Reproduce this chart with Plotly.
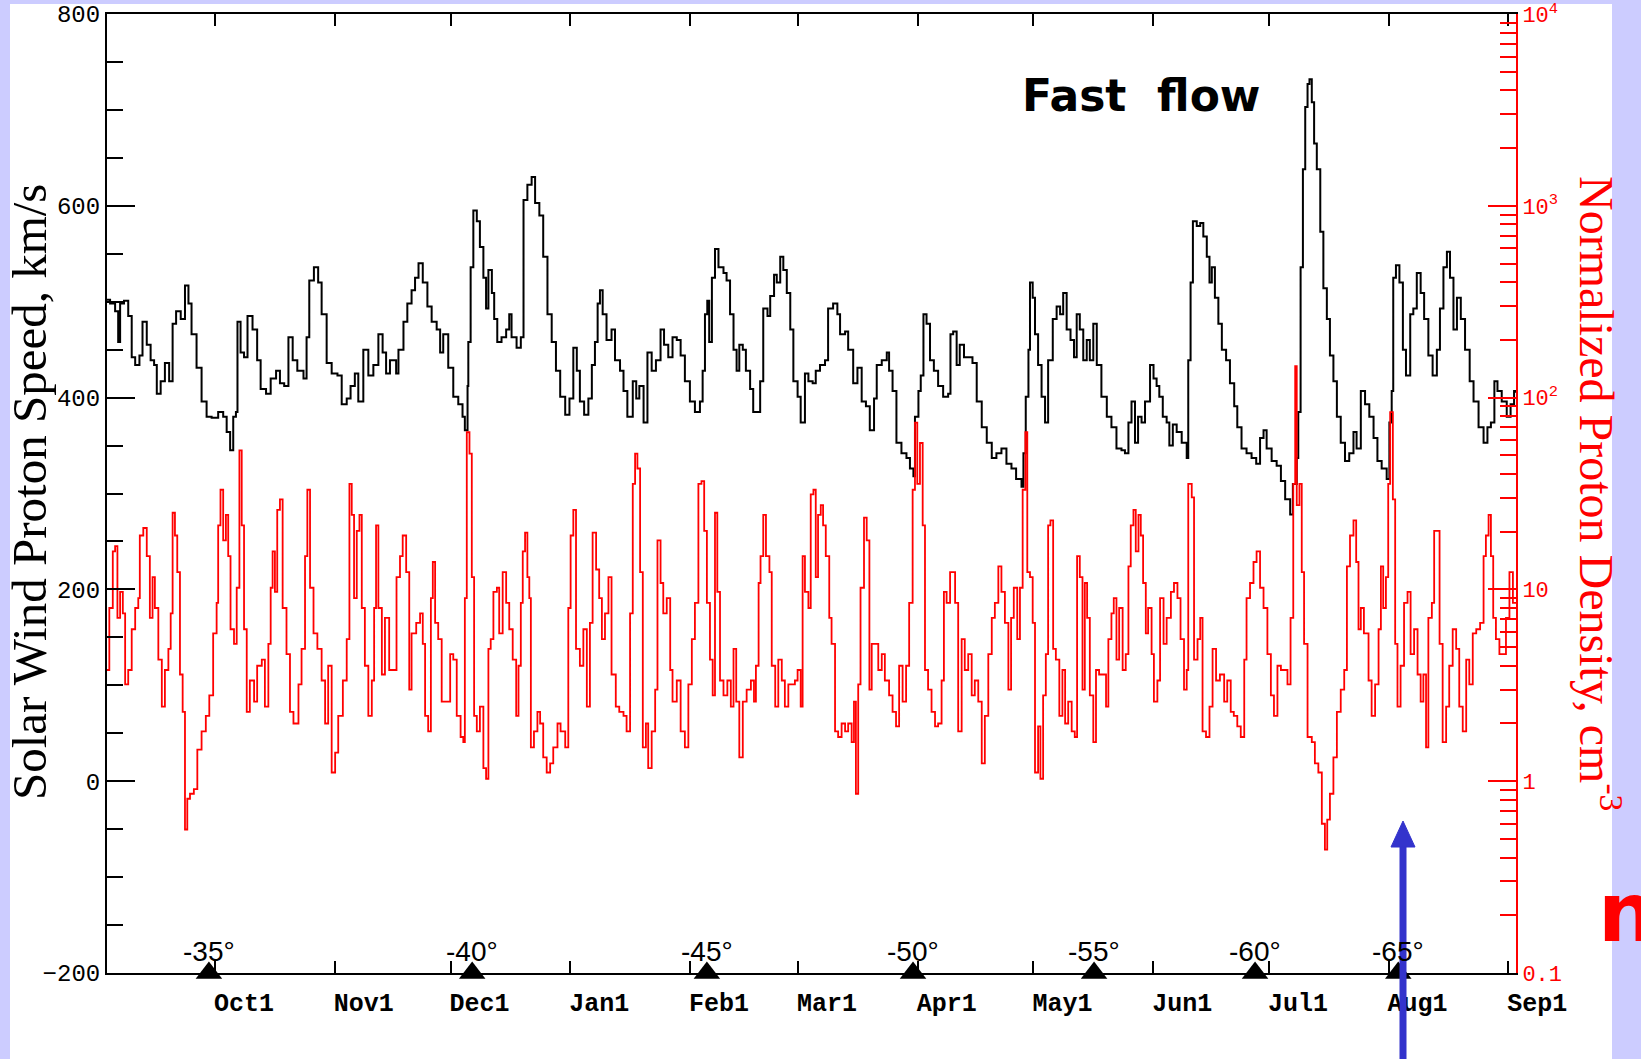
import pandas as pd
import plotly.graph_objects as go

# ---------------- data ----------------
START = "1993-09-03"          # left edge of the time axis
END = "1994-09-03"            # right edge of the time axis

# solar wind proton speed, km/s  (day offset from START)
speed_day = [0, 0.8, 2.1, 2.9, 3.4, 4.4, 5.5, 6.4, 7.3, 8.4, 9.2, 10.3, 11.3, 12.2, 12.9, 13.9, 15.0, 16.1, 17.0, 17.9,
             19.1, 20.2, 21.1, 21.9, 23.2, 24.5, 25.8, 27.1, 28.8, 30.1, 31.0, 31.9, 32.7, 33.4, 33.8, 34.6, 35.5, 36.4,
             37.7, 38.9, 39.8, 41.2, 42.4, 43.8, 44.8, 45.9, 47.0, 48.1, 49.3, 50.9, 51.7, 52.4, 53.6, 54.7, 55.6, 56.9,
             58.2, 59.7, 60.8, 62.1, 63.1, 64.2, 65.1, 66.4, 67.7, 69.0, 70.3, 71.4, 72.3, 73.3, 74.9, 75.5, 76.8, 77.8,
             78.9, 79.8, 80.7, 81.8, 83.0, 84.1, 85.4, 86.3, 87.1, 88.4, 89.7, 91.0, 92.1, 92.7, 93.4, 93.6, 94.2, 94.9,
             95.8, 96.6, 97.5, 98.2, 98.8, 99.7, 100.3, 101.1, 102.2, 103.4, 104.2, 104.8, 106.1, 107.2, 107.9, 108.9,
             110.0, 110.9, 112.0, 113.0, 114.1, 115.2, 116.3, 117.4, 118.7, 119.8, 120.8, 121.7, 122.5, 123.6, 124.7,
             125.6, 126.4, 127.1, 127.7, 128.4, 129.4, 130.7, 131.6, 132.9, 133.8, 134.8, 136.2, 137.1, 137.9, 139.0,
             140.0, 141.1, 142.2, 143.4, 144.3, 145.4, 146.5, 147.6, 148.6, 149.7, 151.0, 152.3, 153.6, 154.3, 154.9,
             155.5, 156.0, 156.7, 157.5, 158.4, 159.7, 160.5, 161.4, 162.3, 163.1, 163.8, 164.7, 165.5, 166.6, 167.4,
             168.5, 169.2, 170.0, 171.1, 171.8, 172.8, 173.5, 174.4, 175.2, 176.1, 177.0, 177.8, 178.9, 179.7, 180.8,
             181.7, 182.8, 183.6, 184.7, 186.0, 186.8, 188.1, 189.2, 189.9, 191.2, 192.0, 193.3, 194.4, 195.5, 196.6,
             197.6, 198.7, 199.4, 200.7, 202.0, 202.6, 203.5, 204.5, 205.8, 207.1, 208.0, 208.9, 209.3, 210.2, 210.8,
             211.5, 212.3, 213.2, 214.2, 215.3, 216.6, 217.9, 218.5, 219.2, 220.1, 220.9, 222.0, 223.1, 224.2, 225.3,
             226.6, 227.9, 229.2, 230.4, 231.7, 233.0, 234.3, 235.5, 236.9, 237.4, 238.0, 238.7, 239.1, 239.8, 240.4,
             241.2, 242.1, 243.0, 243.8, 245.0, 246.0, 246.9, 247.7, 248.6, 249.6, 250.5, 251.2, 252.0, 252.9, 253.8,
             254.6, 255.5, 256.4, 257.6, 259.0, 260.2, 261.5, 262.8, 263.7, 264.6, 265.4, 266.3, 267.1, 268.0, 268.9,
             270.2, 271.1, 271.9, 272.6, 273.5, 274.5, 275.2, 276.1, 277.1, 278.4, 279.7, 280.1, 280.7, 281.3, 282.3,
             283.2, 284.0, 284.9, 285.6, 286.2, 287.0, 287.9, 288.8, 289.9, 290.9, 292.0, 292.8, 293.9, 295.2, 296.5,
             297.7, 298.7, 299.6, 300.4, 301.7, 303.0, 304.1, 305.2, 306.5, 307.2, 308.2, 308.6, 309.2, 309.8, 310.4,
             311.0, 311.5, 312.1, 312.7, 313.4, 314.3, 315.1, 316.0, 316.8, 317.7, 318.6, 319.6, 320.7, 321.8, 322.9,
             323.7, 324.8, 325.9, 327.0, 328.1, 329.1, 330.2, 331.5, 332.2, 332.8, 333.2, 333.9, 334.8, 335.7, 336.5,
             337.6, 338.4, 339.3, 340.3, 341.2, 342.3, 343.4, 344.5, 345.3, 346.2, 347.1, 347.9, 348.8, 349.7, 350.7,
             351.8, 353.0, 354.0, 355.3, 356.6, 357.6, 358.5, 359.4, 360.2, 361.3, 362.6, 363.6, 364.5, 365.0]
speed_kms = [502, 498, 490, 458, 498, 501, 485, 442, 434, 444, 479, 455, 439, 434, 404, 417, 436, 417, 477, 490,
             482, 517, 498, 466, 431, 396, 380, 379, 385, 380, 364, 345, 380, 385, 479, 447, 442, 485,
             471, 439, 409, 404, 420, 428, 415, 412, 463, 439, 428, 420, 463, 522, 536, 520, 487, 436,
             425, 423, 393, 399, 412, 425, 396, 450, 423, 434, 466, 447, 425, 439, 425, 450, 479, 498,
             512, 525, 540, 520, 495, 479, 471, 447, 466, 431, 401, 393, 380, 366, 412, 458, 536, 595,
             584, 557, 525, 493, 533, 509, 482, 458, 463, 471, 487, 463, 452, 463, 606, 622,
             630, 603, 590, 547, 487, 458, 428, 401, 382, 399, 452, 428, 396, 382, 399,
             434, 458, 498, 512, 487, 460, 471, 439, 428, 407, 380, 417, 399, 412, 374,
             447, 428, 439, 471, 455, 442, 463, 460, 444, 417, 396, 385, 396, 428, 487,
             501, 458, 525, 555, 536, 530, 522, 487, 450, 428, 455, 450, 428, 409, 385,
             385, 417, 493, 485, 506, 528, 520, 547, 533, 509, 471, 417, 401, 374, 425,
             417, 415, 428, 434, 439, 493, 498, 487, 466, 469, 450, 415, 431, 396, 391,
             366, 399, 434, 439, 447, 428, 407, 353, 342, 337, 326, 318, 380, 407, 423,
             487, 477, 439, 428, 412, 401, 404, 466, 469, 434, 455, 442, 442, 436, 396,
             369, 353, 337, 342, 347, 331, 326, 315, 307, 342, 401, 450, 520, 504, 466,
             434, 401, 374, 439, 482, 495, 487, 509, 471, 460, 442, 487, 471, 439, 460,
             439, 477, 434, 401, 380, 369, 347, 345, 342, 374, 396, 353, 380, 374, 396,
             434, 420, 412, 401, 380, 374, 350, 372, 364, 353, 337, 439, 520, 584, 579,
             582, 568, 547, 520, 536, 504, 477, 450, 439, 415, 391, 369, 347, 342, 337,
             331, 358, 366, 347, 334, 329, 313, 294, 278, 310, 337, 385, 536, 638, 703,
             727, 732, 708, 665, 638, 573, 514, 482, 444, 417, 380, 353, 334, 342, 364,
             347, 407, 393, 380, 358, 334, 326, 315, 374, 407, 525, 538, 520, 450, 423,
             487, 493, 530, 509, 482, 444, 423, 450, 493, 536, 552, 525, 471, 504, 482,
             450, 417, 396, 369, 353, 369, 374, 417, 407, 396, 380, 393, 407, 405]

# normalized proton density, cm^-3  (day offset from START)
dens_day = [0, 0.6, 1.5, 2.1, 2.7, 3.4, 4.1, 4.7, 5.5, 6.4, 7.3, 8.1, 8.5, 9.4, 10.3, 11.1, 11.8, 12.4, 13.3, 14.2,
            15.0, 15.9, 16.5, 17.0, 17.6, 18.2, 18.9, 19.6, 20.2, 20.8, 21.5, 22.5, 23.4, 24.5, 25.6, 26.5, 27.5, 28.4,
            28.8, 29.4, 30.1, 30.8, 31.4, 32.0, 32.9, 33.6, 34.3, 34.9, 35.5, 36.2, 37.0, 38.1, 38.9, 40.1, 40.9, 41.8,
            42.4, 42.9, 43.5, 44.1, 44.8, 45.5, 46.5, 47.4, 48.3, 49.6, 50.4, 51.3, 51.9, 52.6, 53.5, 54.5, 55.6, 56.5,
            57.3, 58.2, 59.1, 59.9, 61.1, 62.1, 62.8, 63.4, 64.0, 64.7, 65.4, 66.0, 66.8, 67.7, 68.6, 69.2, 69.7, 70.3,
            71.2, 72.0, 73.1, 74.4, 75.0, 75.9, 76.6, 77.5, 78.3, 78.9, 80.1, 81.1, 81.8, 82.4, 83.2, 83.9, 84.4, 85.0,
            85.8, 86.7, 88.0, 88.9, 89.7, 90.6, 91.6, 92.3, 92.7, 93.2, 93.9, 94.5, 95.1, 95.8, 96.6, 97.5, 98.2, 98.8,
            99.4, 100.1, 101.0, 101.6, 102.5, 103.4, 104.2, 105.1, 106.0, 106.6, 107.2, 107.7, 108.3, 108.9, 109.4,
            109.8, 110.6, 111.5, 112.2, 113.0, 113.9, 114.8, 115.6, 116.7, 117.5, 118.7, 119.5, 120.1, 120.8, 121.5,
            122.5, 123.4, 124.3, 125.1, 125.8, 126.7, 127.5, 128.2, 129.0, 129.9, 130.7, 131.8, 132.7, 133.8, 134.6,
            135.5, 136.2, 136.8, 137.4, 138.1, 138.8, 139.6, 140.2, 141.1, 142.0, 142.6, 143.4, 144.1, 145.0, 145.9,
            146.5, 147.6, 148.6, 149.7, 150.6, 151.5, 152.3, 153.2, 154.0, 154.7, 155.4, 156.2, 156.9, 157.5, 158.1,
            158.8, 159.7, 160.7, 161.6, 162.3, 163.0, 163.8, 164.7, 165.7, 166.8, 167.6, 168.1, 168.8, 169.3, 170.0,
            170.7, 171.6, 172.2, 173.1, 173.9, 174.8, 175.6, 176.5, 177.4, 178.2, 178.9, 179.7, 180.2, 180.8, 181.7,
            182.3, 183.0, 183.6, 184.2, 184.9, 185.5, 186.2, 187.1, 187.7, 188.6, 189.4, 190.3, 191.2, 192.0, 192.9,
            193.5, 194.0, 194.6, 195.2, 196.1, 196.8, 197.5, 198.1, 198.9, 199.8, 200.7, 201.5, 202.6, 203.5, 204.4,
            205.2, 206.1, 207.0, 207.8, 208.7, 209.3, 209.9, 210.6, 211.3, 211.9, 212.7, 213.6, 214.5, 215.3, 216.2,
            216.8, 217.5, 218.4, 219.1, 219.7, 220.5, 221.4, 222.2, 223.1, 224.0, 224.8, 225.7, 226.6, 227.4, 228.3,
            229.2, 230.0, 230.9, 231.7, 232.6, 233.5, 234.2, 234.9, 235.8, 236.5, 237.2, 237.9, 238.4, 239.1, 239.8,
            240.4, 241.2, 241.8, 242.5, 243.2, 243.8, 244.4, 245.1, 245.8, 246.7, 247.5, 248.2, 249.0, 249.9, 250.7,
            251.3, 252.0, 252.7, 253.3, 253.9, 254.6, 255.5, 256.2, 257.0, 258.1, 258.8, 259.4, 260.2, 260.8, 261.5,
            262.2, 263.1, 263.9, 264.6, 265.2, 265.9, 266.5, 267.2, 267.8, 268.4, 269.1, 269.7, 270.6, 271.2, 272.1,
            272.8, 273.7, 274.5, 275.6, 276.4, 277.3, 278.1, 279.0, 279.7, 280.1, 281.0, 281.6, 282.5, 283.2, 283.8,
            284.7, 285.6, 286.4, 287.3, 288.3, 289.4, 290.2, 291.1, 291.9, 292.8, 293.7, 294.6, 295.2, 296.1, 297.0,
            297.8, 298.7, 299.6, 300.6, 301.5, 302.3, 303.2, 304.1, 304.9, 305.8, 306.6, 307.3, 307.8, 308.2, 308.9,
            309.5, 310.1, 311.0, 312.1, 312.9, 313.8, 314.7, 315.5, 316.1, 316.8, 317.7, 318.6, 319.6, 320.5, 321.2,
            322.0, 322.9, 323.6, 324.2, 324.8, 325.6, 326.8, 327.6, 328.5, 329.4, 330.0, 330.6, 331.3, 331.9, 332.4,
            333.1, 333.7, 334.3, 335.1, 336.0, 336.9, 337.7, 338.6, 339.5, 340.3, 341.0, 341.7, 342.3, 343.2, 343.8,
            344.6, 345.2, 346.0, 346.9, 347.7, 348.6, 349.5, 350.3, 351.2, 352.1, 352.9, 353.8, 354.7, 355.7, 356.6,
            357.2, 357.9, 358.5, 359.1, 359.8, 360.7, 361.6, 362.4, 363.3, 364.2, 365.0]
dens_cm3 = [3.8, 8.0, 15.8, 16.8, 7.1, 9.7, 7.5, 3.2, 3.8, 6.2, 8.0, 9.0, 19.1, 20.9, 14.9, 7.1, 11.6, 8.0, 4.3, 2.45,
            3.8, 4.9, 7.5, 25.1, 19.1, 12.3, 3.6, 2.3, 0.56, 0.81, 0.86, 0.91, 1.46, 1.82, 2.19, 2.8, 5.9, 8.5,
            21.6, 33.1, 18.0, 24.5, 14.9, 6.2, 5.2, 10.2, 53.1, 21.6, 6.2, 2.3, 3.35, 2.6, 4.0, 4.3, 2.45, 5.2,
            10.2, 15.8, 9.7, 26.0, 29.5, 8.0, 4.6, 2.3, 2.0, 3.2, 4.9, 14.9, 33.1, 10.2, 5.9, 4.9, 3.35, 2.0,
            4.0, 1.11, 1.41, 2.19, 3.35, 5.5, 35.5, 24.5, 9.0, 20.2, 24.5, 8.0, 4.0, 2.19, 3.35, 8.0, 21.6, 8.0,
            3.6, 7.1, 3.8, 3.8, 11.6, 14.9, 19.1, 12.3, 3.0, 5.9, 6.7, 7.5, 5.2, 2.19, 1.82, 9.0, 13.9, 6.7,
            5.5, 2.6, 2.6, 4.6, 4.3, 2.19, 1.7, 1.6, 9.0, 66.0, 51.0, 11.6, 2.19, 1.82, 2.45, 1.17, 1.03, 4.9,
            5.5, 9.7, 10.2, 5.9, 12.3, 8.5, 6.2, 4.3, 2.19, 4.0, 8.5, 15.8, 19.8, 11.6, 9.0,
            1.5, 1.82, 2.3, 2.0, 1.33, 1.11, 1.24, 1.5, 2.0, 1.82, 1.5, 8.0, 19.1, 26.0, 4.9,
            4.0, 6.2, 2.45, 6.7, 19.8, 12.7, 9.0, 5.5, 7.5, 11.6, 3.6, 2.45, 2.3, 2.19, 1.82,
            7.5, 35.5, 51.0, 42.7, 12.3, 1.5, 2.0, 1.17, 1.82, 3.0, 18.0, 10.8, 7.5, 9.0, 3.8,
            2.6, 3.35, 1.82, 1.5, 3.2, 5.5, 8.5, 35.5, 36.7, 20.2, 8.5, 4.3, 2.8, 25.1, 9.7,
            3.35, 2.8, 3.35, 2.45, 4.9, 2.6, 1.33, 2.6, 3.0, 3.35, 2.6, 4.0, 10.8, 14.9, 24.5,
            14.9, 12.3, 4.0, 2.45, 4.3, 3.35, 2.45, 3.2, 3.2, 3.35, 3.8, 2.45, 14.9, 9.7, 8.0,
            31.3, 33.1, 11.6, 24.5, 27.5, 21.6, 14.9, 7.1, 5.2, 1.82, 1.7, 2.0, 1.82, 2.0, 1.6,
            2.6, 0.86, 3.2, 10.2, 23.7, 18.0, 3.0, 5.2, 5.2, 3.8, 4.6, 3.35, 2.8, 2.3, 1.93,
            4.0, 2.6, 4.0, 8.5, 33.1, 74.0, 35.5, 58.0, 21.6, 3.8, 3.0, 2.3, 1.93, 2.0, 3.35,
            9.7, 8.5, 12.3, 12.3, 8.5, 1.82, 5.5, 3.8, 4.6, 2.8, 3.35, 2.6, 1.24, 2.19, 4.6,
            7.1, 8.5, 13.2, 9.7, 6.7, 3.0, 7.1, 10.2, 5.5, 10.2, 33.1, 66.0, 12.3, 11.6, 6.7,
            1.11, 1.93, 1.03, 2.8, 4.6, 21.6, 22.9, 4.9, 4.3, 2.19, 3.8, 2.0, 2.6, 1.82, 1.7,
            14.9, 11.6, 3.0, 10.8, 7.1, 2.8, 1.6, 3.8, 3.6, 3.6, 2.45, 5.5, 7.5, 9.0, 4.3,
            8.0, 3.8, 4.6, 13.2, 21.6, 26.0, 15.8, 24.5, 19.1, 10.8, 5.9, 8.0, 4.6, 2.6, 3.35,
            9.0, 5.2, 7.1, 9.7, 10.8, 9.0, 5.5, 3.0, 3.8, 35.5, 30.2, 4.3, 5.5, 7.1, 1.82,
            1.7, 2.45, 4.9, 3.35, 3.6, 2.6, 3.35, 2.3, 2.19, 1.93, 1.7, 4.3, 9.0, 10.8, 13.9,
            15.8, 10.2, 8.0, 4.6, 2.8, 2.19, 4.0, 3.8, 3.8, 3.2, 7.1, 35.5, 146.0, 27.5, 35.5,
            12.3, 5.2, 1.7, 1.6, 1.24, 1.11, 0.6, 0.44, 0.63, 0.86, 1.33, 2.3, 3.0, 3.8, 13.2,
            19.1, 22.9, 13.9, 6.2, 8.0, 5.9, 3.35, 2.19, 3.2, 6.2, 13.2, 8.0, 11.6, 35.5, 84.0,
            29.5, 5.2, 2.45, 4.0, 8.5, 9.7, 4.6, 6.2, 3.6, 2.6, 3.6, 1.5, 7.1, 8.5, 20.2,
            20.2, 5.2, 1.6, 2.45, 4.0, 6.2, 4.9, 2.45, 1.82, 4.3, 3.2, 5.9, 6.2, 6.7, 14.9,
            19.1, 24.5, 14.9, 7.1, 5.5, 4.6, 4.6, 7.1, 12.3, 8.5, 8.5]

# month ticks
month_ticks = ["1993-10-01", "1993-11-01", "1993-12-01", "1994-01-01", "1994-02-01", "1994-03-01",
               "1994-04-01", "1994-05-01", "1994-06-01", "1994-07-01", "1994-08-01", "1994-09-01"]
month_labels = ["Oct1", "Nov1", "Dec1", "Jan1", "Feb1", "Mar1", "Apr1", "May1", "Jun1", "Jul1", "Aug1", "Sep1"]

# heliographic latitude markers (day offset from START)
lat_day = [26.4, 94.6, 155.4, 208.8, 255.7, 297.4, 334.5]
lat_labels = ["-35°", "-40°", "-45°", "-50°", "-55°", "-60°", "-65°"]

speed_ticks = [-200, 0, 200, 400, 600, 800]
dens_ticks = [0.1, 1, 10, 100, 1000, 10000]
dens_ticktext = ["0.1", "1", "10", "10<sup>2</sup>", "10<sup>3</sup>", "10<sup>4</sup>"]

# ---------------- figure ----------------
base = pd.Timestamp(START)
to_date = lambda days: [base + pd.Timedelta(days=d) for d in days]

W, H = 1641, 1059
L, R, T, B = 107, 1516, 14, 973   # plot area in pixels


def px(x):
    return (x - L) / (R - L)


def py(y):
    return (B - y) / (B - T)


fig = go.Figure()
fig.add_trace(go.Scatter(x=to_date(speed_day), y=speed_kms, mode="lines",
                         line=dict(color="black", width=2, shape="hv"), yaxis="y", hoverinfo="skip"))
fig.add_trace(go.Scatter(x=to_date(dens_day), y=dens_cm3, mode="lines",
                         line=dict(color="#ff0000", width=1.8, shape="hv"), yaxis="y2", hoverinfo="skip"))
fig.add_trace(go.Scatter(x=to_date(lat_day), y=[-200] * len(lat_day), mode="markers",
                         marker=dict(symbol="triangle-up", size=23, color="black"),
                         cliponaxis=False, yaxis="y", hoverinfo="skip"))

annotations = []
for d, lab in zip(lat_day, lat_labels):
    annotations.append(dict(x=base + pd.Timedelta(days=d), y=-200, xref="x", yref="y", text=lab,
                            showarrow=False, yanchor="bottom", xanchor="center", yshift=4,
                            font=dict(family="Liberation Sans", size=28, color="black")))

annotations += [
    dict(x=px(30), y=py(492), xref="paper", yref="paper", text="Solar Wind Proton Speed, km/s",
         textangle=-90, showarrow=False, xanchor="center", yanchor="middle",
         font=dict(family="Liberation Serif", size=49, color="black")),
    dict(x=px(1600), y=py(493), xref="paper", yref="paper",
         text="Normalized Proton Density, cm<sup>-3</sup>",
         textangle=90, showarrow=False, xanchor="center", yanchor="middle",
         font=dict(family="Liberation Serif", size=48, color="#ff0000")),
    dict(x=px(1141), y=py(95), xref="paper", yref="paper", text="Fast\u00a0\u00a0flow",
         showarrow=False, xanchor="center", yanchor="middle",
         font=dict(family="DejaVu Sans", size=44, color="black", weight="bold")),
    dict(x=px(1596), y=py(912), xref="paper", yref="paper", text="n",
         showarrow=False, xanchor="left", yanchor="middle",
         font=dict(family="DejaVu Sans", size=82, color="#ff0000", weight="bold")),
]

shapes = [
    dict(type="rect", xref="paper", yref="paper", x0=px(10), x1=px(1612), y0=py(1070), y1=py(4),
         fillcolor="white", line=dict(width=0), layer="below"),
    dict(type="line", xref="paper", yref="paper", x0=px(1403), x1=px(1403), y0=py(1065), y1=py(845),
         line=dict(color="#3333cc", width=7), layer="above"),
    dict(type="path", xref="paper", yref="paper",
         path=f"M {px(1391)},{py(847)} L {px(1415)},{py(847)} L {px(1403)},{py(821)} Z",
         fillcolor="#3333cc", line=dict(color="#3333cc", width=1), layer="above"),
]

minor_log = [m * 10 ** e for e in range(-1, 4) for m in range(2, 10)]

fig.update_layout(
    width=W, height=H,
    margin=dict(l=L, r=W - R, t=T, b=H - B, pad=0, autoexpand=False),
    paper_bgcolor="#ccccff", plot_bgcolor="white",
    showlegend=False,
    xaxis=dict(type="date", range=[START, END], tickmode="array", tickvals=month_ticks, ticktext=month_labels,
               ticks="inside", ticklen=12, tickwidth=2, tickcolor="black", automargin=False,
               showline=True, linecolor="black", linewidth=2, mirror="ticks",
               showgrid=False, zeroline=False, ticklabelshift=29, ticklabelstandoff=6,
               tickfont=dict(family="Liberation Mono", size=25, color="black", weight="bold")),
    yaxis=dict(range=[-200, 800], tickmode="array", tickvals=speed_ticks, automargin=False,
               ticks="inside", ticklen=28, tickwidth=2, tickcolor="black",
               showline=True, linecolor="black", linewidth=2, showgrid=False, zeroline=False,
               minor=dict(tickmode="linear", tick0=-200, dtick=50, ticks="inside", ticklen=16,
                          tickwidth=2, tickcolor="black", showgrid=False),
               tickfont=dict(family="Liberation Mono", size=24, color="black")),
    yaxis2=dict(type="log", range=[-1, 4.0003], overlaying="y", side="right", automargin=False,
                tickmode="array", tickvals=dens_ticks, ticktext=dens_ticktext, ticklabeloverflow="allow",
                ticks="inside", ticklen=28, tickwidth=2, tickcolor="#ff0000",
                showline=True, linecolor="#ff0000", linewidth=2, showgrid=False, zeroline=False,
                minor=dict(tickmode="array", tickvals=minor_log, ticks="inside", ticklen=16,
                           tickwidth=2, tickcolor="#ff0000", showgrid=False),
                tickfont=dict(family="Liberation Mono", size=22, color="#ff0000")),
    annotations=annotations,
    shapes=shapes,
)

fig.write_html("out.html")
